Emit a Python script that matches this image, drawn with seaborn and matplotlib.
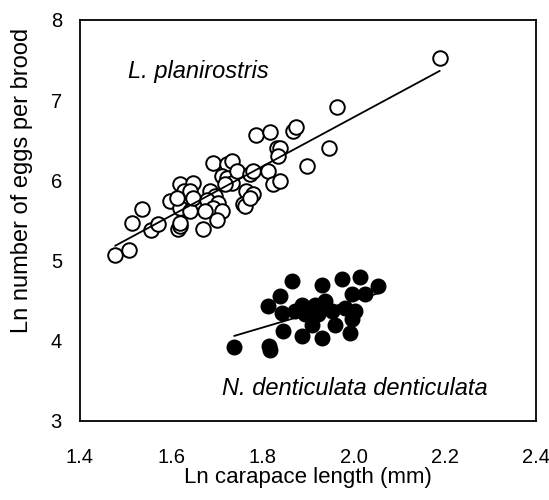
import matplotlib
matplotlib.use('Agg')
import matplotlib.pyplot as plt
import numpy as np
import pandas as pd
import seaborn as sns

sns.set_style('white')
plt.rcParams['font.family'] = ['Liberation Sans', 'DejaVu Sans']
plt.rcParams['text.color'] = 'black'
plt.rcParams['axes.labelcolor'] = 'black'

# L. planirostris (open circles)
lp_len = [1.477, 1.507, 1.515, 1.535, 1.556, 1.572, 1.597, 1.615, 1.619, 1.619,
          1.641, 1.619, 1.619, 1.648, 1.627, 1.641, 1.612, 1.648,
          1.685, 1.696, 1.678, 1.703, 1.692, 1.674, 1.711, 1.700, 1.670,
          1.692, 1.722, 1.733, 1.711, 1.722, 1.733, 1.744, 1.718, 1.773,
          1.765, 1.780, 1.758, 1.762, 1.773, 1.780,
          1.787, 1.817, 1.831, 1.839, 1.835, 1.813, 1.823, 1.839,
          1.868, 1.874, 1.897, 1.945, 1.963, 2.189]
lp_eggs = [5.07, 5.13, 5.47, 5.64, 5.38, 5.46, 5.74, 5.40, 5.43, 5.66,
           5.62, 5.47, 5.96, 5.97, 5.87, 5.87, 5.78, 5.78,
           5.87, 5.80, 5.76, 5.72, 5.66, 5.62, 5.62, 5.51, 5.40,
           6.22, 6.20, 6.24, 6.05, 6.03, 5.97, 6.12, 5.95, 6.08,
           5.87, 5.83, 5.70, 5.68, 5.78, 6.12,
           6.56, 6.60, 6.41, 6.41, 6.30, 6.12, 5.95, 5.99,
           6.62, 6.66, 6.18, 6.41, 6.91, 7.52]

# N. denticulata denticulata (filled circles)
nd_len = [1.738, 1.817, 1.815, 1.864, 1.839, 1.813, 1.842, 1.846, 1.886, 1.930,
          1.930, 1.974, 2.014, 2.054, 2.025, 1.996, 1.886, 1.915, 1.937, 1.893,
          1.923, 1.952, 1.981, 2.003, 1.996, 1.959, 1.908, 1.992, 1.871]
nd_eggs = [3.92, 3.89, 3.93, 4.75, 4.56, 4.43, 4.35, 4.12, 4.06, 4.04,
           4.70, 4.77, 4.79, 4.68, 4.58, 4.58, 4.45, 4.45, 4.50, 4.33,
           4.33, 4.37, 4.41, 4.37, 4.27, 4.20, 4.20, 4.10, 4.37]

lp = pd.DataFrame({'length': lp_len, 'eggs': lp_eggs})
nd = pd.DataFrame({'length': nd_len, 'eggs': nd_eggs})

fig = plt.figure(figsize=(5.49, 5.0), dpi=100)
ax = fig.add_axes([0.1457, 0.158, 0.8306, 0.802])

sns.regplot(data=lp, x='length', y='eggs', ax=ax, ci=None, truncate=True,
            scatter_kws=dict(s=110, facecolors='white', edgecolors='black',
                             linewidths=1.4, alpha=1),
            line_kws=dict(color='black', lw=1.3))
sns.regplot(data=nd, x='length', y='eggs', ax=ax, ci=None, truncate=True,
            scatter_kws=dict(s=110, color='black', edgecolors='black',
                             linewidths=1.0, alpha=1),
            line_kws=dict(color='black', lw=1.3))

ax.text(1.505, 7.36, 'L. planirostris', style='italic', fontsize=17, va='center')
ax.text(1.711, 3.41, 'N. denticulata denticulata', style='italic', fontsize=17, va='center')

ax.set_xlim(1.4, 2.4)
ax.set_ylim(3, 8)
ax.set_xticks([1.4, 1.6, 1.8, 2.0, 2.2, 2.4])
ax.set_xticklabels(['1.4', '1.6', '1.8', '2.0', '2.2', '2.4'])
ax.set_yticks([3, 4, 5, 6, 7, 8])
ax.tick_params(direction='in', length=5, width=1.2, labelsize=14.5, colors='black')
ax.tick_params(axis='x', pad=19.5)
ax.tick_params(axis='y', pad=13)
ax.set_xlabel('Ln carapace length (mm)', fontsize=16)
ax.set_ylabel('Ln number of eggs per brood', fontsize=17)
ax.xaxis.set_label_coords(0.5, -0.115)
ax.yaxis.set_label_coords(-0.127, 0.6)
ax.yaxis.label.set_verticalalignment('center')
for s in ax.spines.values():
    s.set_color('black')
    s.set_linewidth(1.3)

fig.savefig('out.png', dpi=100)
